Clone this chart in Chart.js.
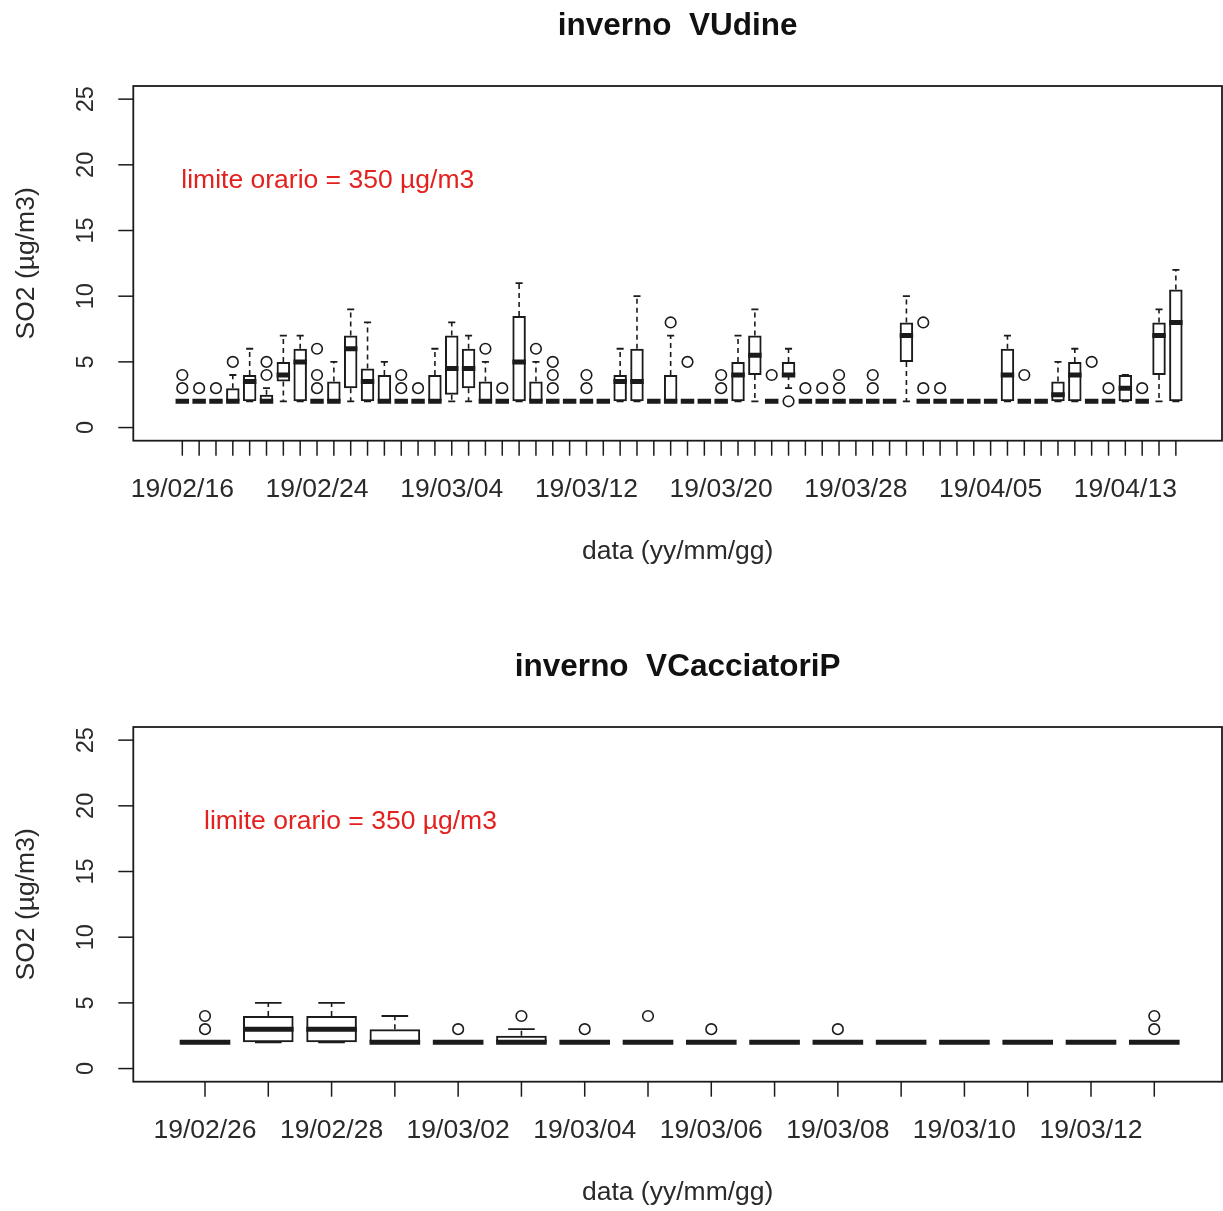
<!DOCTYPE html>
<html>
<head>
<meta charset="utf-8">
<title>SO2 inverno</title>
<script src="https://cdn.jsdelivr.net/npm/chart.js@4.4.1/dist/chart.umd.min.js"></script>
<style>
  html, body { margin: 0; padding: 0; background: #fff; }
  #wrap { position: relative; width: 1223px; height: 1211px; overflow: hidden; background: #fff; }
  canvas { position: absolute; left: 0; }
</style>
</head>
<body>
<div id="wrap">
  <canvas id="udine" width="1223" height="600" style="top:0px"></canvas>
  <canvas id="cacciatori" width="1223" height="570" style="top:641px"></canvas>
</div>
<script>
// ---------------- Station VUdine: daily box statistics of hourly SO2 (µg/m3) ----------------
const udineDates = [
  '19/02/16','19/02/17','19/02/18','19/02/19','19/02/20','19/02/21','19/02/22','19/02/23','19/02/24','19/02/25',
  '19/02/26','19/02/27','19/02/28','19/03/01','19/03/02','19/03/03','19/03/04','19/03/05','19/03/06','19/03/07',
  '19/03/08','19/03/09','19/03/10','19/03/11','19/03/12','19/03/13','19/03/14','19/03/15','19/03/16','19/03/17',
  '19/03/18','19/03/19','19/03/20','19/03/21','19/03/22','19/03/23','19/03/24','19/03/25','19/03/26','19/03/27',
  '19/03/28','19/03/29','19/03/30','19/03/31','19/04/01','19/04/02','19/04/03','19/04/04','19/04/05','19/04/06',
  '19/04/07','19/04/08','19/04/09','19/04/10','19/04/11','19/04/12','19/04/13','19/04/14','19/04/15','19/04/16'
];
const udineTickLabels = ['19/02/16','19/02/24','19/03/04','19/03/12','19/03/20','19/03/28','19/04/05','19/04/13'];
const udineLow = [
  2,2,2,2,2,2,2,2,2,2, 2,2,2,2,2,2,2,2,2,2, 2,2,2,2,2,2,2,2,2,2,
  2,2,2,2,2,2,3,2,2,2, 2,2,2,2,2,2,2,2,2,2, 2,2,2,2,2,2,2,2,2,2
];
const udineQ1 = [
  2,2,2,2,2,2,3.5,2,2,2, 3,2,2,2,2,2,2.5,3,2,2, 2,2,2,2,2,2,2,2,2,2,
  2,2,2,2,4,2,4,2,2,2, 2,2,2,5,2,2,2,2,2,2, 2,2,2,2,2,2,2,2,4,2
];
const udineMedian = [
  2,2,2,2,3.5,2,4,5,2,2, 6,3.5,2,2,2,2,4.5,4.5,2,2, 5,2,2,2,2,2,3.5,3.5,2,2,
  2,2,2,4,5.5,2,4,2,2,2, 2,2,2,7,2,2,2,2,2,4, 2,2,2.5,4,2,2,3,2,7,8
];
const udineQ3 = [
  2,2,2,3,4,2.5,5,6,2,3.5, 7,4.5,4,2,2,4,7,6,3.5,2, 8.5,3.5,2,2,2,2,4,6,2,4,
  2,2,2,5,7,2,5,2,2,2, 2,2,2,8,2,2,2,2,2,6, 2,2,3.5,5,2,2,4,2,8,10.5
];
const udineHigh = [
  2,2,2,4,6,3,7,7,2,5, 9,8,5,2,2,6,8,7,5,2, 11,5,2,2,2,2,6,10,2,7,
  2,2,2,7,9,2,6,2,2,2, 2,2,2,10,2,2,2,2,2,7, 2,2,5,6,2,2,4,2,9,12
];
const udineOutliers = [
  [3,4],[3],[3],[5],[],[4,5],[],[],[3,4,6],[],
  [],[],[],[3,4],[3],[],[],[],[6],[3],
  [],[6],[3,4,5],[],[3,4],[],[],[],[],[8],
  [5],[],[3,4],[],[],[4],[2],[3],[3],[3,4],
  [],[3,4],[],[],[3,8],[3],[],[],[],[],
  [4],[],[],[],[5],[3],[],[3],[],[]
];

// ---------------- Station VCacciatoriP ----------------
const cacciatoriDates = [
  '19/02/26','19/02/27','19/02/28','19/03/01','19/03/02','19/03/03','19/03/04','19/03/05',
  '19/03/06','19/03/07','19/03/08','19/03/09','19/03/10','19/03/11','19/03/12','19/03/13'
];
const cacciatoriTickLabels = ['19/02/26','19/02/28','19/03/02','19/03/04','19/03/06','19/03/08','19/03/10','19/03/12'];
const cacciatoriLow    = [2,2,2,2,2,2,2,2,2,2,2,2,2,2,2,2];
const cacciatoriQ1     = [2,2,2,2,2,2,2,2,2,2,2,2,2,2,2,2];
const cacciatoriMedian = [2,3,3,2,2,2,2,2,2,2,2,2,2,2,2,2];
const cacciatoriQ3     = [2,4,4,3,2,2.5,2,2,2,2,2,2,2,2,2,2];
const cacciatoriHigh   = [2,5,5,4,2,3,2,2,2,2,2,2,2,2,2,2];
const cacciatoriOutliers = [[3,4],[],[],[],[3],[4],[3],[4],[3],[],[3],[],[],[],[],[3,4]];

const yTickValues = [0, 5, 10, 15, 20, 25];
const noteText = 'limite orario = 350 µg/m3';
const yTitle = 'SO2 (µg/m3)';
const xTitle = 'data (yy/mm/gg)';

// ---------------- drawing helpers ----------------
const FONT = '"Liberation Sans", Arial, Helvetica, sans-serif';
const INK = '#1b1b1b';
const NOTE_RED = '#e3211f';

function unitPx(chart) {
  const x = chart.scales.x;
  return Math.abs(x.getPixelForValue(1) - x.getPixelForValue(0));
}

function boxDatasets(low, q1, med, q3, high, outliers) {
  const boxes = [], medians = [], caps = [], whiskers = [], outs = [];
  med.forEach((m, i) => {
    const x = i + 1;
    boxes.push({ x, y: [q1[i], q3[i]] });
    medians.push({ x, y: m });
    caps.push({ x, y: high[i] });
    caps.push({ x, y: low[i] });
    if (high[i] > q3[i]) whiskers.push({ x, y: q3[i] }, { x, y: high[i] }, { x, y: null });
    if (low[i] < q1[i]) whiskers.push({ x, y: q1[i] }, { x, y: low[i] }, { x, y: null });
    outliers[i].forEach(v => outs.push({ x, y: v }));
  });
  return [
    { type: 'line', data: medians, order: 0, showLine: false, pointStyle: 'line',
      pointRadius: c => 0.4 * unitPx(c.chart), pointBorderWidth: 5, pointBorderColor: INK },
    { type: 'line', data: caps, order: 1, showLine: false, pointStyle: 'line',
      pointRadius: c => 0.21 * unitPx(c.chart), pointBorderWidth: 1.8, pointBorderColor: INK },
    { type: 'line', data: outs, order: 2, showLine: false, pointStyle: 'circle',
      pointRadius: 5.3, pointBorderWidth: 1.6, pointBorderColor: INK, pointBackgroundColor: 'rgba(0,0,0,0)' },
    { type: 'bar', data: boxes, order: 3, barPercentage: 0.8, categoryPercentage: 1.0,
      borderSkipped: false, borderWidth: 2, borderColor: INK, backgroundColor: 'rgba(0,0,0,0)' },
    { type: 'line', data: whiskers, order: 4, spanGaps: false, borderDash: [5, 4],
      borderWidth: 1.6, borderColor: INK, pointRadius: 0, tension: 0 }
  ];
}

const panelDecor = {
  id: 'panelDecor',
  afterDraw(chart, args, opts) {
    const { ctx, chartArea: a, scales: { x, y } } = chart;
    ctx.save();
    ctx.strokeStyle = INK;
    ctx.fillStyle = INK;

    // plot frame
    ctx.lineWidth = 1.8;
    ctx.strokeRect(a.left, a.top, a.right - a.left, a.bottom - a.top);

    // y axis: outward ticks with rotated labels
    ctx.lineWidth = 1.5;
    ctx.font = `23.5px ${FONT}`;
    ctx.fillStyle = '#2a2a2a';
    ctx.textAlign = 'center';
    ctx.textBaseline = 'middle';
    y.ticks.forEach(t => {
      const py = y.getPixelForValue(t.value);
      ctx.beginPath(); ctx.moveTo(a.left - 15, py); ctx.lineTo(a.left, py); ctx.stroke();
      ctx.save(); ctx.translate(86, py); ctx.rotate(-Math.PI / 2);
      ctx.fillText(String(t.value), 0, 1); ctx.restore();
    });

    // x axis: one tick per day, label on selected days
    ctx.font = `26.5px ${FONT}`;
    x.ticks.forEach(t => {
      const px = x.getPixelForValue(t.value);
      ctx.beginPath(); ctx.moveTo(px, a.bottom); ctx.lineTo(px, a.bottom + 15); ctx.stroke();
      const lab = opts.dates[t.value - 1];
      if (opts.tickLabels.includes(lab)) ctx.fillText(lab, px, 490);
    });

    // titles
    const cx = (a.left + a.right) / 2;
    ctx.fillText(xTitle, cx, 552);
    ctx.save(); ctx.translate(27, (a.top + a.bottom) / 2); ctx.rotate(-Math.PI / 2);
    ctx.fillText(yTitle, 0, 0); ctx.restore();
    ctx.font = `bold 31.5px ${FONT}`;
    ctx.fillStyle = '#111';
    ctx.fillText(opts.title, cx, 26);

    // hourly limit note
    ctx.font = `26.5px ${FONT}`;
    ctx.fillStyle = NOTE_RED;
    ctx.textAlign = 'left';
    ctx.fillText(noteText, x.getPixelForValue(1) - 1, y.getPixelForValue(18.8));
    ctx.restore();
  }
};

function makePanel(id, title, dates, tickLabels, xMin, xMax, stats) {
  const canvas = document.getElementById(id);
  const H = canvas.height;
  return new Chart(canvas, {
    type: 'bar',
    data: { datasets: boxDatasets(...stats) },
    options: {
      responsive: false,
      animation: false,
      events: [],
      layout: { autoPadding: false, padding: { top: 86, right: 1, left: 0, bottom: 0 } },
      plugins: {
        legend: { display: false },
        tooltip: { enabled: false },
        panelDecor: { title, dates, tickLabels }
      },
      scales: {
        x: {
          type: 'linear', min: xMin, max: xMax, offset: false,
          grid: { display: false }, border: { display: false }, ticks: { display: false },
          afterBuildTicks: s => { s.ticks = dates.map((_, i) => ({ value: i + 1 })); },
          afterFit: s => { s.height = H - 440.7; }
        },
        y: {
          type: 'linear', min: -1, max: 26,
          grid: { display: false }, border: { display: false }, ticks: { display: false },
          afterBuildTicks: s => { s.ticks = yTickValues.map(v => ({ value: v })); },
          afterFit: s => { s.width = 133.3; }
        }
      }
    },
    plugins: [panelDecor]
  });
}

makePanel('udine', 'inverno  VUdine', udineDates, udineTickLabels, -1.91, 62.74,
  [udineLow, udineQ1, udineMedian, udineQ3, udineHigh, udineOutliers]);
makePanel('cacciatori', 'inverno  VCacciatoriP', cacciatoriDates, cacciatoriTickLabels, -0.133, 17.07,
  [cacciatoriLow, cacciatoriQ1, cacciatoriMedian, cacciatoriQ3, cacciatoriHigh, cacciatoriOutliers]);
</script>
</body>
</html>
